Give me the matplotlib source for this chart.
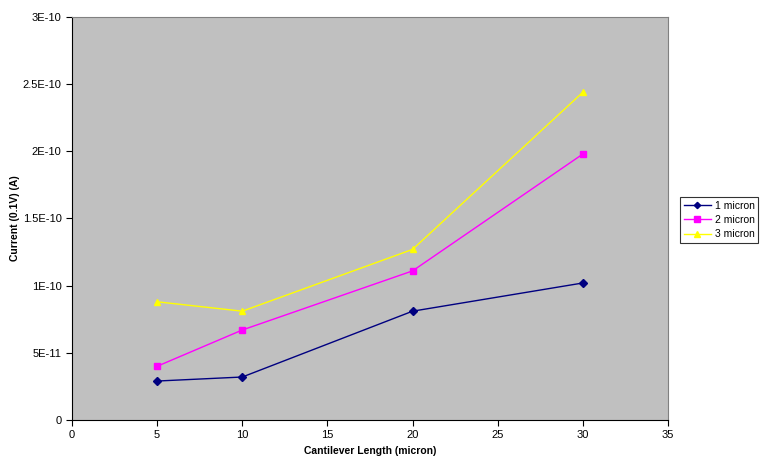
import numpy as np
import matplotlib
matplotlib.use('Agg')
import matplotlib.pyplot as plt
from matplotlib.ticker import FixedLocator, FixedFormatter

plt.rcParams['font.family'] = ['Liberation Sans', 'DejaVu Sans']

# data
length = [5, 10, 20, 30]
cur_1 = [2.9e-11, 3.2e-11, 8.1e-11, 1.02e-10]
cur_2 = [4.0e-11, 6.7e-11, 1.11e-10, 1.98e-10]
cur_3 = [8.8e-11, 8.1e-11, 1.27e-10, 2.44e-10]

y_ticks = [0, 5e-11, 1e-10, 1.5e-10, 2e-10, 2.5e-10, 3e-10]
y_labels = ['0', '5E-11', '1E-10', '1.5E-10', '2E-10', '2.5E-10', '3E-10']

fig = plt.figure(figsize=(7.62, 4.68), dpi=100)
ax = fig.add_axes([72/762, 48/468, 596/762, 403/468])
ax.set_facecolor('#C0C0C0')

ax.plot(length, cur_1, color='#000080', marker='D', markersize=4, lw=1, label='1 micron')
ax.plot(length, cur_2, color='#FF00FF', marker='s', markersize=5, lw=1, label='2 micron')
ax.plot(length, cur_3, color='#FFFF00', marker='^', markersize=5, lw=1, label='3 micron')

ax.set_xlim(0, 35)
ax.set_ylim(0, 3e-10)
ax.set_xticks(np.arange(0, 36, 5))
ax.yaxis.set_major_locator(FixedLocator(y_ticks))
ax.yaxis.set_major_formatter(FixedFormatter(y_labels))
ax.tick_params(labelsize=8, direction='out', length=4, width=0.8)
for s in ['top', 'right']:
    ax.spines[s].set_color('#808080')
    ax.spines[s].set_linewidth(0.8)
for s in ['left', 'bottom']:
    ax.spines[s].set_linewidth(0.8)

ax.set_xlabel('Cantilever Length (micron)', fontsize=7.5, fontweight='bold')
ax.set_ylabel('Current (0.1V) (A)', fontsize=7.5, fontweight='bold', labelpad=2)

leg = ax.legend(loc='center left', bbox_to_anchor=(680/762, 248/468),
                bbox_transform=fig.transFigure, fontsize=7.5, frameon=True,
                fancybox=False, edgecolor='black', borderpad=0.35,
                handlelength=2.6, handletextpad=0.4, labelspacing=0.42,
                borderaxespad=0, markerscale=0.8)
leg.get_frame().set_linewidth(0.8)

fig.savefig('out.png', dpi=100)
